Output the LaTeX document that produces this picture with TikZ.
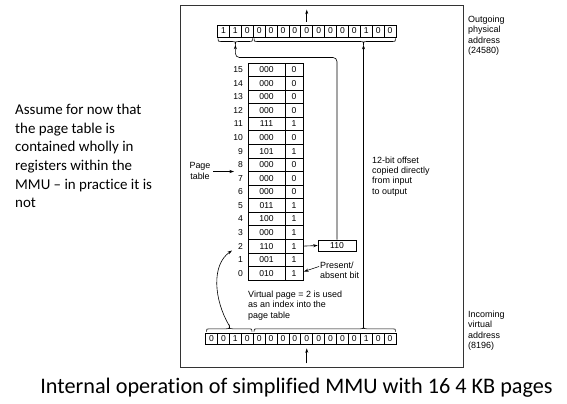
\documentclass[tikz,border=0pt]{standalone}
\usepackage{fontspec}
\setmainfont[Ligatures={NoCommon}]{Carlito}
\newfontfamily\arialf{Liberation Sans}
\usetikzlibrary{arrows.meta}
\begin{document}
\begin{tikzpicture}[x=1bp,y=-1bp,
  fig/.style={font=\arialf\fontsize{9}{10.4}\selectfont},
  cellfont/.style={font=\arialf\fontsize{8.6}{10}\selectfont},
  cell/.style={draw, line width=0.7bp, minimum width=11.9bp, minimum height=12bp, inner sep=0, cellfont},
  pcell/.style={draw, line width=0.7bp, minimum height=13.56bp, inner sep=0, cellfont},
  lbl/.style={fig, inner sep=0, align=left, anchor=north west},
  arr/.style={line width=0.6bp, -{Stealth[length=4.5bp,width=3bp]}},
  brc/.style={line width=0.6bp}
]
\useasboundingbox (0,0) rectangle (567,403);
% frame
\draw[line width=1bp, black!80] (180,5) rectangle (463,367);
% outgoing row (15 bits)
\foreach \b [count=\i from 0] in {1,1,0,0,0,0,0,0,0,0,0,0,1,0,0}
  \node[cell] (t\i) at ({217.5+11.9*\i+5.95},31) {\b};
% incoming row (16 bits)
\foreach \b [count=\i from 0] in {0,0,1,0,0,0,0,0,0,0,0,0,0,1,0,0}
  \node[cell, minimum height=11.5bp] (b\i) at ({205.6+11.9*\i+5.95},338.8) {\b};
% page table
\foreach \n/\f/\p in {15/000/0,14/000/0,13/000/0,12/000/0,11/111/1,10/000/0,9/101/1,8/000/0,7/000/0,6/000/0,5/011/1,4/100/1,3/000/1,2/110/1,1/001/1,0/010/1} {
  \pgfmathsetmacro\yc{63+(15-\n)*13.5625+6.78}
  \node[pcell, minimum width=37bp] (f\n) at (266.5,\yc) {\f};
  \node[pcell, minimum width=18bp] (p\n) at (294,\yc) {\p};
  \node[cellfont, anchor=east, inner sep=0] (l\n) at (243,\yc) {\n};
}
% result box
\node[cell, minimum width=38bp, minimum height=11bp] (box) at (337,245.5) {110};
% braces (top row, below it)
\draw[brc] (218,38.5) .. controls (218,41.5) .. (221,41.5) -- (232.4,41.5) .. controls (235.4,41.5) .. (235.4,44.5)
  .. controls (235.4,41.5) .. (238.4,41.5) -- (249.5,41.5) .. controls (252.5,41.5) .. (252.5,38.5);
\draw[brc] (254,38.5) .. controls (254,41.5) .. (257,41.5) -- (360.5,41.5) .. controls (363.5,41.5) .. (363.5,44.5)
  .. controls (363.5,41.5) .. (366.5,41.5) -- (392.5,41.5) .. controls (395.5,41.5) .. (395.5,38.5);
% braces (bottom row, above it)
\draw[brc] (206.5,331.5) .. controls (206.5,328.8) .. (209.5,328.8) -- (226.4,328.8) .. controls (229.4,328.8) .. (229.4,326)
  .. controls (229.4,328.8) .. (232.4,328.8) -- (249,328.8) .. controls (252,328.8) .. (252,331.5);
\draw[brc] (254,331.5) .. controls (254,328.8) .. (257,328.8) -- (360.5,328.8) .. controls (363.5,328.8) .. (363.5,326)
  .. controls (363.5,328.8) .. (366.5,328.8) -- (392.5,328.8) .. controls (395.5,328.8) .. (395.5,331.5);
\coordinate (ttipA) at (235.4,44.8);
\coordinate (ttipB) at (363.5,44.8);
\coordinate (btipA) at (229.4,326);
\coordinate (btipB) at (363.5,326);
\coordinate (bendA) at (235.4,57.5);
\coordinate (cEnd) at (232,250.5);
\coordinate (ptS) at (213,171.5);
\coordinate (ptE) at (234,171.5);
\coordinate (presS) at (319,266.5);
\coordinate (presE) at (304,271.5);
% labels
\node[lbl] (outl) at (468,15.8) {Outgoing\\physical\\address\\(24580)};
\node[lbl] (inl) at (468,310.8) {Incoming\\virtual\\address\\(8196)};
\node[lbl] (offl) at (372,156.5) {12-bit offset\\copied directly\\from input\\to output};
\node[lbl] (vpl) at (248,290.8) {Virtual page = 2 is used\\as an index into the\\page table};
\node[lbl] (presl) at (320,261.5) {Present/\\absent bit};
\node[fig, inner sep=0, align=center, anchor=north] (ptl) at (200,162.5) {Page\\table};
% connectors
\draw[arr] (p2.east) -- (box.west);
\draw[arr, rounded corners=4bp] (box.north) |- (bendA) -- (ttipA);
\draw[arr] (btipB) -- (ttipB);
\draw[arr] (btipA) .. controls (214,300) and (211,265) .. (cEnd);
\draw[arr] (ptS) -- (ptE);
\draw[arr] (presS) -- (presE);
\draw[arr] ([yshift=3bp]t7.north) -- ([yshift=15bp]t7.north);
\draw[arr] ([yshift=-18.5bp]b8.south) -- ([yshift=-3.5bp]b8.south);
% side note and caption
\node[anchor=north west, align=left, inner sep=0, font=\fontsize{15}{18.7}\selectfont] (note) at (15,104)
  {Assume for now that\\the page table is\\contained wholly in\\registers within the\\MMU – in practice it is\\not};
\node[anchor=base, inner sep=0, font=\fontsize{22.3}{26}\selectfont] (cap) at (296.5,393)
  {Internal operation of simplified MMU with 16 4 KB pages};
\end{tikzpicture}
\end{document}
